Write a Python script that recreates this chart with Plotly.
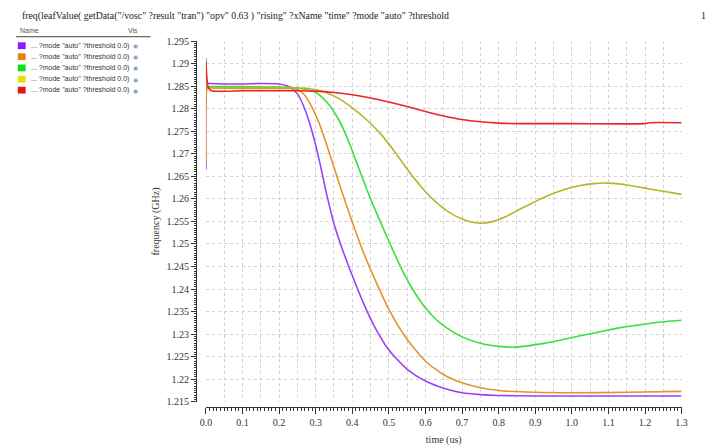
import plotly.graph_objects as go

W, H = 723, 446

# ---------------- data ----------------
t_purple = [0.0, 0.004, 0.01, 0.05, 0.1, 0.15, 0.2, 0.23, 0.25, 0.27, 0.29, 0.31, 0.33, 0.35, 0.37,
            0.40, 0.43, 0.46, 0.50, 0.55, 0.60, 0.65, 0.70, 0.75, 0.80, 0.90, 1.0, 1.3]
v_purple = [1.2665, 1.2856, 1.2856, 1.2855, 1.2855, 1.2856, 1.2855, 1.2848, 1.2833, 1.2800, 1.2750,
            1.2685, 1.2610, 1.2545, 1.2495, 1.2430, 1.2370, 1.2318, 1.2265, 1.2222, 1.2196, 1.2180,
            1.2170, 1.2166, 1.2164, 1.2163, 1.2163, 1.2163]

t_orange = [0.0, 0.004, 0.01, 0.1, 0.2, 0.25, 0.27, 0.29, 0.31, 0.33, 0.35, 0.37, 0.39, 0.41, 0.43,
            0.46, 0.50, 0.55, 0.60, 0.65, 0.70, 0.75, 0.80, 0.90, 1.0, 1.155, 1.3]
v_orange = [1.268, 1.2846, 1.2846, 1.2845, 1.2845, 1.2843, 1.2830, 1.2803, 1.2767, 1.2720, 1.2670,
            1.2620, 1.2572, 1.2526, 1.2482, 1.2425, 1.2355, 1.2288, 1.2240, 1.2210, 1.2192, 1.2181,
            1.2175, 1.2171, 1.2170, 1.2171, 1.2173]

t_green = [0.0, 0.004, 0.01, 0.1, 0.2, 0.26, 0.30, 0.33, 0.36, 0.39, 0.42, 0.45, 0.48, 0.51, 0.54,
           0.57, 0.60, 0.63, 0.66, 0.70, 0.75, 0.80, 0.84, 0.88, 0.92, 0.97, 1.02, 1.075, 1.13, 1.18,
           1.23, 1.3]
v_green = [1.2913, 1.2849, 1.2849, 1.2849, 1.2848, 1.2845, 1.2836, 1.2815, 1.2780, 1.2728, 1.2663,
           1.2600, 1.2543, 1.2488, 1.2436, 1.2393, 1.2358, 1.2332, 1.2313, 1.2294, 1.2280, 1.2273,
           1.2271, 1.2274, 1.2279, 1.2287, 1.2296, 1.2305, 1.2314, 1.2320, 1.2326, 1.2331]

t_olive = [0.0, 0.004, 0.01, 0.1, 0.2, 0.28, 0.32, 0.36, 0.40, 0.44, 0.48, 0.52, 0.56, 0.60, 0.64,
           0.68, 0.72, 0.75, 0.78, 0.82, 0.86, 0.90, 0.94, 0.98, 1.02, 1.06, 1.10, 1.15, 1.20, 1.25,
           1.3]
v_olive = [1.2900, 1.2847, 1.2847, 1.2847, 1.2847, 1.2845, 1.2838, 1.2824, 1.2802, 1.2775, 1.2742,
           1.2700, 1.2655, 1.2616, 1.2585, 1.2563, 1.2550, 1.2546, 1.2549, 1.2561, 1.2578, 1.2594,
           1.2609, 1.2621, 1.2629, 1.2634, 1.2635, 1.2631, 1.2624, 1.2617, 1.2610]

t_red = [0.0, 0.006, 0.015, 0.1, 0.2, 0.25, 0.30, 0.35, 0.40, 0.45, 0.50, 0.55, 0.60, 0.65, 0.70,
         0.75, 0.80, 0.85, 1.0, 1.2, 1.21, 1.3]
v_red = [1.2905, 1.2848, 1.2840, 1.2840, 1.2840, 1.2840, 1.2839, 1.2836, 1.2831, 1.2824, 1.2815,
         1.2805, 1.2794, 1.2784, 1.2776, 1.2771, 1.2768, 1.2767, 1.2767, 1.2767, 1.2769, 1.2769]

line_colors = ["#9a42f5", "#e8922c", "#3ae03a", "#b8b42a", "#ee2424"]
swatch_colors = ["#8a1cff", "#e0860f", "#14e014", "#e2e20a", "#e81414"]
legend_label = '... ?mode "auto" ?threshold 0.0)'

x_ticks = [0.0, 0.1, 0.2, 0.3, 0.4, 0.5, 0.6, 0.7, 0.8, 0.9, 1.0, 1.1, 1.2, 1.3]
y_ticks = [1.215, 1.22, 1.225, 1.23, 1.235, 1.24, 1.245, 1.25, 1.255, 1.26, 1.265, 1.27, 1.275,
           1.28, 1.285, 1.29, 1.295]

title_text = ('freq(leafValue( getData("/vosc" ?result "tran") "opv" 0.63 ) "rising" '
              '?xName "time" ?mode "auto" ?threshold')

# ---------------- helpers (pixel -> paper) ----------------
def px(x):
    return x / W

def py(y):
    return 1 - y / H

SERIF = "Liberation Serif"
SANS = "Liberation Sans"

fig = go.Figure()
series = [(t_purple, v_purple), (t_orange, v_orange), (t_green, v_green),
          (t_olive, v_olive), (t_red, v_red)]
for (t, v), c in zip(series, line_colors):
    fig.add_trace(go.Scatter(x=t, y=v, mode="lines",
                             line=dict(color=c, width=1.6, shape="spline", smoothing=0.6),
                             showlegend=False, hoverinfo="skip"))

# dummy trace to carry the secondary x axis used only for the 0.05 gridlines
fig.add_trace(go.Scatter(x=[x_ticks[0], x_ticks[-1]], y=[None, None], xaxis="x2",
                         mode="lines", showlegend=False, hoverinfo="skip"))

x_dom = [px(203.3), px(687.0)]
y_dom = [py(405.8), py(36.0)]
grid_col = "#d2d2d2"
axis_col = "#333333"

fig.update_layout(
    width=W, height=H,
    margin=dict(l=0, r=0, t=0, b=0),
    paper_bgcolor="white", plot_bgcolor="white",
    showlegend=False,
    xaxis=dict(
        domain=x_dom, range=[x_ticks[0], x_ticks[-1]],
        anchor="free", position=py(411.5),
        showline=True, linecolor=axis_col, linewidth=1,
        ticks="outside", ticklen=6, tickcolor=axis_col, tickwidth=1,
        tickmode="array", tickvals=x_ticks, ticktext=[f"{v:.1f}" for v in x_ticks],
        tickfont=dict(family=SERIF, size=10, color="#333"),
        showgrid=False, zeroline=False,
        minor=dict(tickmode="linear", tick0=0, dtick=0.01, ticks="outside", ticklen=3,
                   tickcolor=axis_col, showgrid=False),
        title=dict(text="time (us)", font=dict(family=SERIF, size=10, color="#333"), standoff=8),
    ),
    xaxis2=dict(
        overlaying="x", anchor="y", range=[x_ticks[0], x_ticks[-1]],
        tickmode="linear", tick0=0, dtick=0.05,
        showgrid=True, gridcolor=grid_col, griddash="dot", gridwidth=1,
        showticklabels=False, ticks="", showline=False, zeroline=False,
    ),
    yaxis=dict(
        domain=y_dom, range=[y_ticks[0], y_ticks[-1]],
        anchor="free", position=px(193.3),
        showline=True, linecolor=axis_col, linewidth=1,
        ticks="outside", ticklen=5, tickcolor=axis_col, tickwidth=1,
        tickmode="array", tickvals=y_ticks, ticktext=[f"{v:g}" for v in y_ticks],
        tickfont=dict(family=SERIF, size=10, color="#333"),
        showgrid=True, gridcolor=grid_col, griddash="dot", gridwidth=1, zeroline=False,
        minor=dict(tickmode="linear", tick0=1.215, dtick=0.0005, ticks="outside", ticklen=2.5,
                   tickcolor=axis_col, showgrid=False),
        title=dict(text="frequency (GHz)", font=dict(family=SERIF, size=10, color="#333"),
                   standoff=4),
    ),
)

annotations = [
    dict(text=title_text, x=px(14), y=py(10), xref="paper", yref="paper",
         xanchor="left", yanchor="middle", showarrow=False,
         font=dict(family=SERIF, size=9.8, color="#222")),
    dict(text="1", x=px(714), y=py(10), xref="paper", yref="paper",
         xanchor="right", yanchor="middle", showarrow=False,
         font=dict(family=SERIF, size=10, color="#222")),
    dict(text="Name", x=px(12), y=py(25), xref="paper", yref="paper",
         xanchor="left", yanchor="middle", showarrow=False,
         font=dict(family=SANS, size=7, color="#555")),
    dict(text="Vis", x=px(122), y=py(25), xref="paper", yref="paper",
         xanchor="left", yanchor="middle", showarrow=False,
         font=dict(family=SANS, size=7, color="#555")),
]
shapes = [
    dict(type="line", xref="paper", yref="paper", x0=px(10), x1=px(147), y0=py(31.5), y1=py(31.5),
         line=dict(color="#444", width=1)),
]
row_y = [40.7, 52.0, 63.5, 75.0, 86.3]
for c, yy in zip(swatch_colors, row_y):
    shapes.append(dict(type="rect", xref="paper", yref="paper",
                       x0=px(12), x1=px(20), y0=py(yy + 3.5), y1=py(yy - 3.5),
                       fillcolor=c, line=dict(width=0)))
    annotations.append(dict(text=legend_label, x=px(23), y=py(yy), xref="paper", yref="paper",
                            xanchor="left", yanchor="middle", showarrow=False,
                            font=dict(family=SANS, size=7, color="#333")))
    annotations.append(dict(text="◉", x=px(132), y=py(yy), xref="paper", yref="paper",
                            xanchor="center", yanchor="middle", showarrow=False,
                            font=dict(family="DejaVu Sans", size=6, color="#8095b5")))

fig.update_layout(annotations=annotations, shapes=shapes)
fig.write_html("out.html")
